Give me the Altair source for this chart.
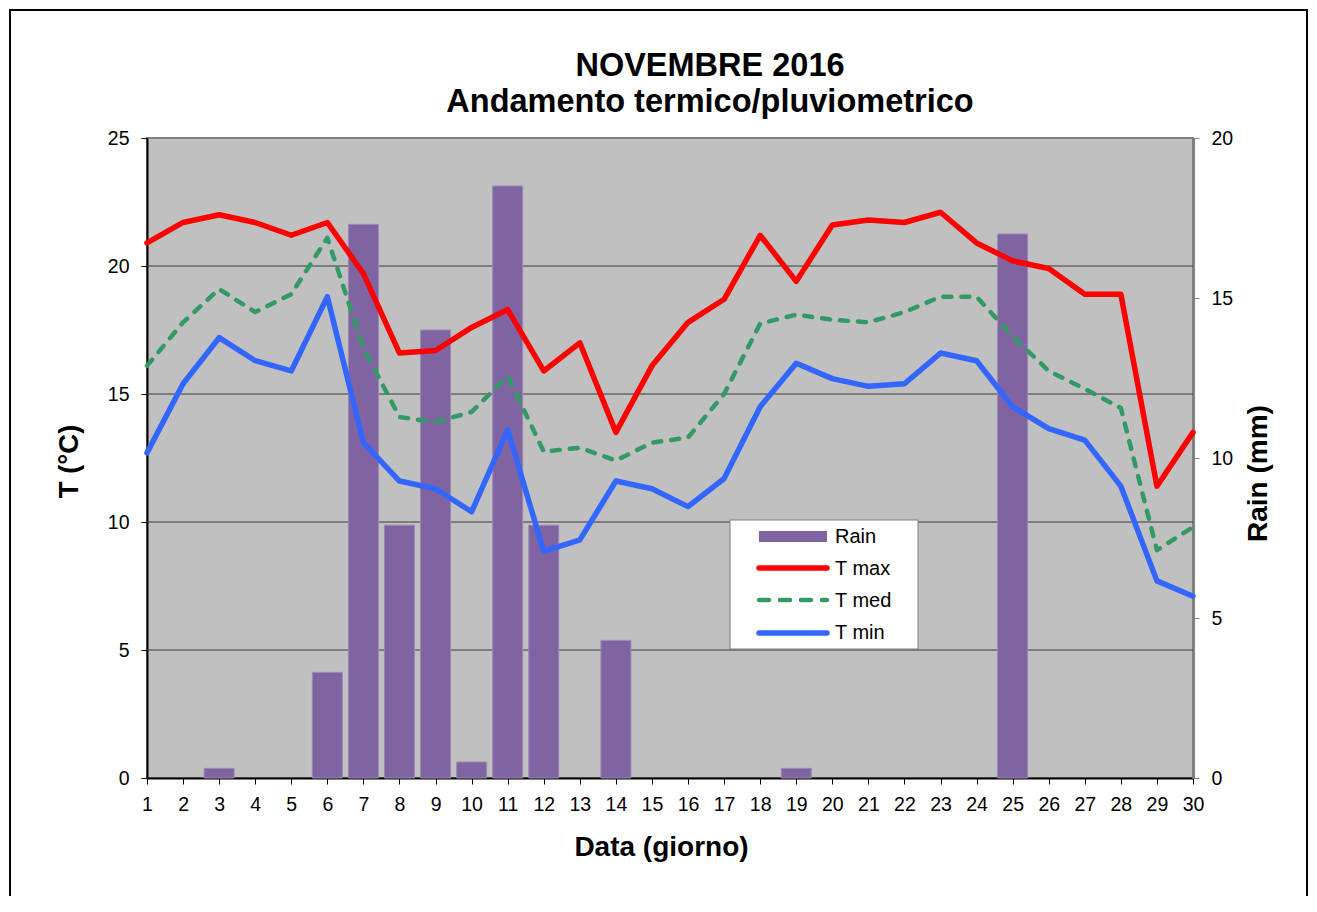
import altair as alt
import pandas as pd

days = list(range(1, 31))
rain = [0, 0, 0.3, 0, 0, 3.3, 17.3, 7.9, 14.0, 0.5,
        18.5, 7.9, 0, 4.3, 0, 0, 0, 0, 0.3, 0,
        0, 0, 0, 0, 17.0, 0, 0, 0, 0, 0]
tmax = [20.9, 21.7, 22.0, 21.7, 21.2, 21.7, 19.7, 16.6, 16.7, 17.6,
        18.3, 15.9, 17.0, 13.5, 16.1, 17.8, 18.7, 21.2, 19.4, 21.6,
        21.8, 21.7, 22.1, 20.9, 20.2, 19.9, 18.9, 18.9, 11.4, 13.5]
tmed = [16.1, 17.8, 19.1, 18.2, 18.9, 21.1, 16.8, 14.1, 13.9, 14.3,
        15.7, 12.75, 12.9, 12.4, 13.1, 13.3, 15.0, 17.75, 18.1, 17.9,
        17.8, 18.2, 18.8, 18.8, 17.25, 15.9, 15.2, 14.45, 8.9, 9.8]
tmin = [12.7, 15.4, 17.2, 16.3, 15.9, 18.8, 13.1, 11.6, 11.3, 10.4,
        13.6, 8.85, 9.3, 11.6, 11.3, 10.6, 11.7, 14.5, 16.2, 15.6,
        15.3, 15.4, 16.6, 16.3, 14.5, 13.65, 13.2, 11.4, 7.7, 7.1]
t_ticks = [0, 5, 10, 15, 20, 25]
t_grid = [5, 10, 15, 20]
rain_ticks = [0, 5, 10, 15, 20]
legend_labels = ["Rain", "T max", "T med", "T min"]

title_lines = ["NOVEMBRE 2016", "Andamento termico/pluviometrico"]

FONT = "Liberation Sans"
RED = "#FF0000"
GREEN = "#339966"
BLUE = "#3366FF"
PURPLE = "#8064A2"

df = pd.DataFrame({"day": days, "rain": rain, "tmax": tmax, "tmed": tmed, "tmin": tmin})

W, H = 1046, 640

x_scale = alt.Scale(domain=[1, 30], nice=False, zero=False, padding=0)
t_scale = alt.Scale(domain=[0, 25], nice=False)
r_scale = alt.Scale(domain=[0, 20], nice=False)

x_axis = alt.Axis(values=days, title="Data (giorno)", labelFlush=False, labelOverlap=False,
                  tickSize=6, tickColor="#000", domainColor="#000", domainWidth=2,
                  labelPadding=11, labelFontSize=19.5, grid=False,
                  titleX=514, titleY=77, titleBaseline="alphabetic", titleAlign="center",
                  titleFontSize=28)

grid = alt.Chart(pd.DataFrame({"g": t_grid})).mark_rule(color="#3a3a3a", strokeWidth=1).encode(
    y=alt.Y("g:Q", scale=t_scale,
            axis=alt.Axis(values=t_ticks, orient="left", title="T (°C)", grid=False,
                          tickSize=6, tickColor="#000", domainColor="#000", domainWidth=2,
                          labelPadding=12, labelFontSize=19.5,
                          titleX=-70, titleY=323, titleAngle=-90, titleAlign="center",
                          titleBaseline="alphabetic", titleFontSize=27.5))
)

bars = alt.Chart(df).transform_filter("datum.rain > 0").mark_bar(
    size=30, color=PURPLE, stroke="#9a88b6", strokeWidth=1
).encode(
    x=alt.X("day:Q", scale=x_scale, axis=x_axis),
    y=alt.Y("rain:Q", scale=r_scale,
            axis=alt.Axis(values=rain_ticks, orient="right", title="Rain (mm)", grid=False,
                          tickSize=6, tickColor="#808080", domainColor="#808080", domainWidth=3,
                          labelPadding=12, labelFontSize=19.5,
                          titleX=73, titleY=335, titleAngle=-90, titleAlign="center",
                          titleBaseline="alphabetic", titleFontSize=28))
)

def tline(field, color, width, dash=None):
    kw = dict(color=color, strokeWidth=width, strokeJoin="round", strokeCap="round")
    if dash:
        kw["strokeDash"] = dash
    return alt.Chart(df).mark_line(**kw).encode(
        x=alt.X("day:Q", scale=x_scale, axis=x_axis),
        y=alt.Y(f"{field}:Q", scale=t_scale, axis=None),
    )

lines = alt.layer(
    tline("tmax", RED, 5.5),
    tline("tmed", GREEN, 4.5, [8, 10]),
    tline("tmin", BLUE, 5.5),
)

one = pd.DataFrame({"k": [0]})

# legend
leg_box = alt.Chart(one).mark_rect(fill="white", stroke="#808080", strokeWidth=1).encode(
    x=alt.value(583), x2=alt.value(771), y=alt.value(382), y2=alt.value(511))
leg_rain = alt.Chart(one).mark_rect(fill=PURPLE).encode(
    x=alt.value(612), x2=alt.value(680), y=alt.value(393), y2=alt.value(404))
leg_max = alt.Chart(one).mark_rule(color=RED, strokeWidth=5.5, strokeCap="round").encode(
    x=alt.value(612), x2=alt.value(680), y=alt.value(430))
leg_med = alt.Chart(one).mark_rule(color=GREEN, strokeWidth=4.5, strokeCap="round",
                                   strokeDash=[10, 11]).encode(
    x=alt.value(612), x2=alt.value(680), y=alt.value(462))
leg_min = alt.Chart(one).mark_rule(color=BLUE, strokeWidth=5.5, strokeCap="round").encode(
    x=alt.value(612), x2=alt.value(680), y=alt.value(495))

leg_texts = []
for lab, yb in zip(legend_labels, [405, 437, 469, 501]):
    leg_texts.append(
        alt.Chart(pd.DataFrame({"label": [lab]})).mark_text(
            align="left", baseline="alphabetic", font=FONT, fontSize=20, color="black"
        ).encode(x=alt.value(688), y=alt.value(yb), text="label:N")
    )

# chart title (two bold lines above the plot)
title_marks = []
for txt, yb in zip(title_lines, [-62, -26]):
    title_marks.append(
        alt.Chart(pd.DataFrame({"t": [txt]})).mark_text(
            align="center", baseline="alphabetic", font=FONT, fontSize=32.5,
            fontWeight="bold", color="black"
        ).encode(x=alt.value(563), y=alt.value(yb), text="t:N")
    )

border = alt.Chart(one).mark_rect(fillOpacity=0, stroke="black", strokeWidth=2).encode(
    x=alt.value(-137), x2=alt.value(1160), y=alt.value(-128), y2=alt.value(800))

chart = alt.layer(
    grid, bars, lines, leg_box, leg_rain, leg_max, leg_med, leg_min, *leg_texts,
    *title_marks, border
).resolve_scale(y="independent").properties(
    width=W, height=H,
    autosize=alt.AutoSizeParams(type="none"),
    padding={"left": 139, "top": 130, "right": 116, "bottom": 118},
).configure(
    background="white",
    font=FONT,
).configure_view(
    fill="#C0C0C0", stroke="#808080", strokeWidth=2
).configure_axis(
    labelFont=FONT, titleFont=FONT, labelColor="black", titleColor="black",
    titleFontWeight="bold"
)

chart.save("out.html", embed_options={"renderer": "svg", "actions": False})
